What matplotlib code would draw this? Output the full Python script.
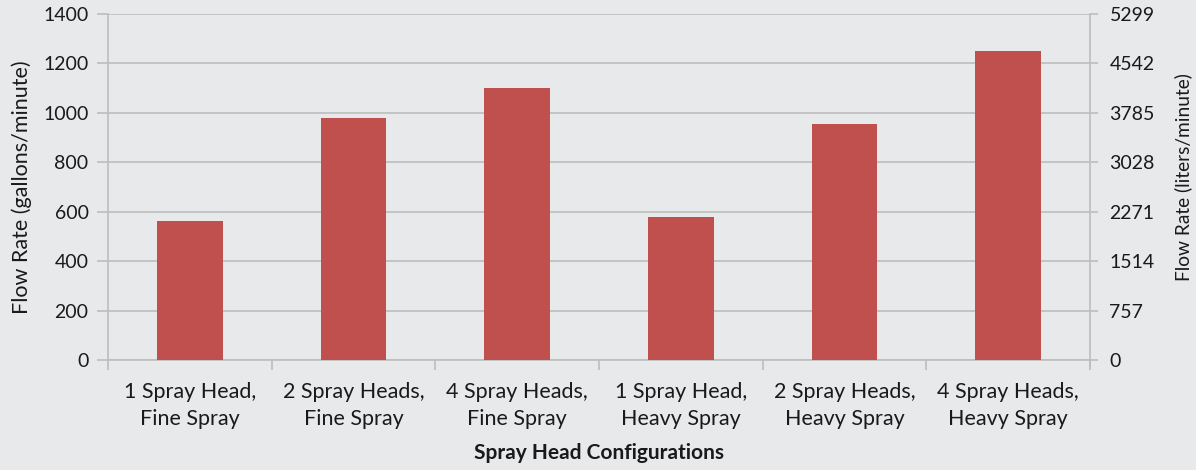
import matplotlib
matplotlib.use("Agg")
import matplotlib.pyplot as plt
import numpy as np

categories = ["1 Spray Head,\nFine Spray", "2 Spray Heads,\nFine Spray", "4 Spray Heads,\nFine Spray",
              "1 Spray Head,\nHeavy Spray", "2 Spray Heads,\nHeavy Spray", "4 Spray Heads,\nHeavy Spray"]
flow_gpm = [563, 979, 1100, 579, 956, 1250]
left_ticks = [0, 200, 400, 600, 800, 1000, 1200, 1400]
right_tick_labels = ["0", "757", "1514", "2271", "3028", "3785", "4542", "5299"]

plt.rcParams['font.family'] = ['Lato', 'DejaVu Sans']
bg = "#E8E9EB"
txt = "#1a1a1a"
gridc = "#BDBDBD"

fig = plt.figure(figsize=(11.96, 4.70), dpi=100, facecolor=bg)
ax = fig.add_axes([108/1196, 1-360/470, (1090-108)/1196, 346/470])
ax.set_facecolor(bg)
x = np.arange(len(categories))
ax.bar(x, flow_gpm, width=0.4, color="#C0504D", zorder=3)
ax.set_xlim(-0.5, len(categories)-0.5)
ax.set_ylim(0, 1400)
ax.set_yticks(left_ticks)
ax.set_yticklabels([str(t) for t in left_ticks], fontsize=14, color=txt)
ax.yaxis.grid(True, color=gridc, linewidth=1.2, zorder=0)
ax.tick_params(axis='y', length=8, color=gridc, width=1.2, pad=6)
ax.set_xticks(x)
ax.set_xticklabels(categories, fontsize=15.5, color=txt, linespacing=1.4)
ax.tick_params(axis='x', length=0, pad=16)
ax.set_xticks(np.arange(-0.5, len(categories)), minor=True)
ax.tick_params(axis='x', which='minor', length=7, color=gridc, width=1.2)
for s in ['top', 'right']:
    ax.spines[s].set_visible(False)
ax.spines['left'].set_color(gridc)
ax.spines['left'].set_linewidth(1.2)
ax.spines['bottom'].set_color(gridc)
ax.spines['bottom'].set_linewidth(1.2)
ax.set_ylabel("Flow Rate (gallons/minute)", fontsize=15.5, color=txt, labelpad=8)
ax.set_xlabel("Spray Head Configurations", fontsize=15, fontweight='bold', color=txt, labelpad=10)

ax2 = ax.twinx()
ax2.set_ylim(0, 1400)
ax2.set_yticks(left_ticks)
ax2.set_yticklabels(right_tick_labels, fontsize=14, color=txt)
ax2.tick_params(axis='y', length=6, color=gridc, width=1.2, pad=8)
for s in ['top', 'left', 'bottom']:
    ax2.spines[s].set_visible(False)
ax2.spines['right'].set_color(gridc)
ax2.spines['right'].set_linewidth(1.2)
ax2.spines['right'].set_bounds(-25, 1400)
ax2.set_ylabel("Flow Rate (liters/minute)", fontsize=13.8, color=txt, labelpad=14)
ax2.yaxis.label.set_y(0.53)

fig.savefig("out.png", dpi=100, facecolor=bg)
